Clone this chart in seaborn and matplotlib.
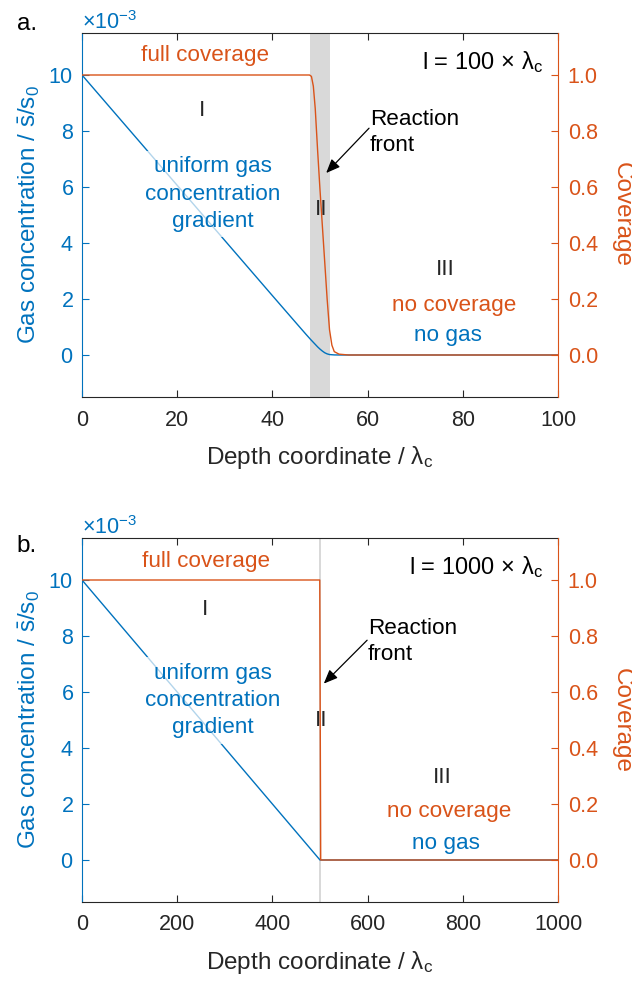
import matplotlib
matplotlib.use("Agg")
import numpy as np
import pandas as pd
import matplotlib.pyplot as plt
import seaborn as sns
from matplotlib.ticker import ScalarFormatter, FormatStrFormatter

# --- data -----------------------------------------------------------------
# Panel a: l = 100 x lambda_c (gas concentration in units of 1e-3)
depth_a_gas = [0, 10, 20, 30, 40, 45, 47, 48, 49, 49.5, 50, 50.5, 51, 51.5, 52, 53, 54, 100]
gas_a = [10.0, 8.03, 6.06, 4.09, 2.12, 1.14, 0.75, 0.56, 0.38, 0.29, 0.21, 0.14, 0.08, 0.04, 0.016, 0.003, 0.0, 0.0]
depth_a_cov = [0, 47.8, 48.2, 48.6, 49.0, 49.5, 50.0, 50.5, 51.0, 51.5, 52.0, 52.5, 53.0, 54.0, 56.0, 100]
cov_a = [1.0, 1.0, 0.995, 0.96, 0.88, 0.73, 0.59, 0.46, 0.33, 0.2, 0.09, 0.035, 0.012, 0.003, 0.0, 0.0]
front_a = (48, 52)

# Panel b: l = 1000 x lambda_c
depth_b_gas = [0, 500, 1000]
gas_b = [10.0, 0.0, 0.0]
depth_b_cov = [0, 499.5, 501.5, 1000]
cov_b = [1.0, 1.0, 0.0, 0.0]
front_b = (498, 502)

xticks_a = [0, 20, 40, 60, 80, 100]
xticks_b = [0, 200, 400, 600, 800, 1000]
gas_ticks = [0, 2, 4, 6, 8, 10]
cov_ticks = [0.0, 0.2, 0.4, 0.6, 0.8, 1.0]

BLUE = "#0072BD"
ORANGE = "#D95319"
DARK = "#262626"
BAND = "#D9D9D9"

sns.set_theme(style="white")
plt.rcParams["font.family"] = ["Liberation Sans", "DejaVu Sans"]
plt.rcParams["mathtext.fontset"] = "custom"
plt.rcParams["mathtext.rm"] = "Liberation Sans"
plt.rcParams["mathtext.it"] = "Liberation Sans"
plt.rcParams["mathtext.bf"] = "Liberation Sans:bold"

TICK_FS = 15.5
LABEL_FS = 17.5
NOTE_FS = 16.2

fig = plt.figure(figsize=(6.32, 9.83), dpi=100)
W, H = 632, 983


def make_axes(top_px, bottom_px):
    left, right = 82, 558
    return fig.add_axes([left / W, 1 - bottom_px / H, (right - left) / W, (bottom_px - top_px) / H])


def draw_panel(ax, depth_gas, gas, depth_cov, cov, band, xmax, xticks, notes, length_label):
    axr = ax.twinx()

    ax.axvspan(band[0], band[1], color=BAND, lw=0, zorder=0)
    gas_df = pd.DataFrame({"depth": depth_gas, "gas": np.array(gas) * 1e-3})
    cov_df = pd.DataFrame({"depth": depth_cov, "coverage": cov})
    sns.lineplot(data=gas_df, x="depth", y="gas", ax=ax, color=BLUE, lw=1.0, sort=False)
    sns.lineplot(data=cov_df, x="depth", y="coverage", ax=axr, color=ORANGE, lw=1.0, sort=False)

    ax.set_xlim(0, xmax)
    ax.set_ylim(-1.5e-3, 11.5e-3)
    axr.set_ylim(-0.15, 1.15)
    ax.set_xticks(xticks)
    ax.set_yticks(np.array(gas_ticks) * 1e-3)
    axr.set_yticks(cov_ticks)
    fmt = ScalarFormatter(useMathText=True)
    fmt.set_powerlimits((-3, -3))
    ax.yaxis.set_major_formatter(fmt)
    axr.yaxis.set_major_formatter(FormatStrFormatter("%.1f"))

    ax.tick_params(axis="x", direction="in", top=True, bottom=True, length=5, width=0.8,
                   colors=DARK, labelsize=TICK_FS, pad=9)
    ax.tick_params(axis="y", direction="in", left=True, right=False, length=5, width=0.8,
                   colors=BLUE, labelsize=TICK_FS, pad=6)
    axr.tick_params(axis="y", direction="in", right=True, left=False, length=5, width=0.8,
                    colors=ORANGE, labelsize=TICK_FS, pad=7)
    ax.yaxis.get_offset_text().set_color(BLUE)
    ax.yaxis.get_offset_text().set_fontsize(TICK_FS)

    for side in ("top", "bottom"):
        ax.spines[side].set_color(DARK)
        ax.spines[side].set_linewidth(0.8)
    ax.spines["left"].set_color(BLUE)
    ax.spines["left"].set_linewidth(0.8)
    ax.spines["right"].set_visible(False)
    axr.spines["left"].set_visible(False)
    axr.spines["top"].set_visible(False)
    axr.spines["bottom"].set_visible(False)
    axr.spines["right"].set_color(ORANGE)
    axr.spines["right"].set_linewidth(0.8)

    ax.set_xlabel(r"Depth coordinate / $\lambda_{\mathrm{c}}$", fontsize=LABEL_FS, color=DARK, labelpad=10)
    ax.set_ylabel(r"Gas concentration / $\bar{\mathrm{s}}/\mathrm{s}_{0}$", fontsize=LABEL_FS,
                  color=BLUE, labelpad=5)
    axr.set_ylabel("Coverage", fontsize=LABEL_FS, color=ORANGE, rotation=270, va="bottom", labelpad=9)

    k = 1e-3
    ax.text(notes["full"][0], notes["full"][1] * k, "full coverage", color=ORANGE,
            fontsize=NOTE_FS, ha="center", va="center")
    ax.text(notes["I"][0], notes["I"][1] * k, "I", color=DARK, fontsize=NOTE_FS,
            ha="center", va="center")
    ax.text(notes["grad"][0], notes["grad"][1] * k, "uniform gas\nconcentration\ngradient",
            color=BLUE, fontsize=NOTE_FS, ha="center", va="center", linespacing=1.38, zorder=5,
            bbox=dict(boxstyle="square,pad=0.25", facecolor="white", edgecolor="none", alpha=0.7))
    ax.text(notes["front"][0], notes["front"][1] * k, "Reaction\nfront", color="black",
            fontsize=NOTE_FS, ha="left", va="center", linespacing=1.35)
    ax.annotate("", xy=(notes["head"][0], notes["head"][1] * k),
                xytext=(notes["tail"][0], notes["tail"][1] * k),
                arrowprops=dict(arrowstyle="-|>,head_length=0.6,head_width=0.25", color="black",
                                lw=0.9, mutation_scale=14, shrinkA=0, shrinkB=0))
    ax.text(notes["II"][0], notes["II"][1] * k, "II", color=DARK, fontsize=NOTE_FS,
            ha="center", va="center")
    ax.text(notes["III"][0], notes["III"][1] * k, "III", color=DARK, fontsize=NOTE_FS,
            ha="center", va="center")
    ax.text(notes["nocov"][0], notes["nocov"][1] * k, "no coverage", color=ORANGE,
            fontsize=NOTE_FS, ha="center", va="center")
    ax.text(notes["nogas"][0], notes["nogas"][1] * k, "no gas", color=BLUE,
            fontsize=NOTE_FS, ha="center", va="center")
    ax.text(notes["len"][0], notes["len"][1] * k, length_label, color="black",
            fontsize=17, ha="right", va="center")
    return axr


notes_a = {
    "full": (25.8, 10.7), "I": (25.2, 8.75), "grad": (27.5, 5.75),
    "front": (60.5, 7.95), "tail": (60.3, 8.1), "head": (51.3, 6.5),
    "II": (50.2, 5.2), "III": (76.3, 3.05), "nocov": (78.2, 1.78), "nogas": (76.9, 0.68),
    "len": (97.0, 10.45),
}
notes_b = {
    "full": (260, 10.65), "I": (258, 8.95), "grad": (275, 5.7),
    "front": (601, 7.8), "tail": (599, 7.85), "head": (508, 6.3),
    "II": (502, 5.0), "III": (756, 2.95), "nocov": (771, 1.72), "nogas": (764, 0.6),
    "len": (970, 10.45),
}

ax_a = make_axes(33, 397)
draw_panel(ax_a, depth_a_gas, gas_a, depth_a_cov, cov_a, front_a, 100, xticks_a, notes_a,
           r"l = 100$\,\times\,\lambda_{\mathrm{c}}$")
ax_b = make_axes(538, 902)
draw_panel(ax_b, depth_b_gas, gas_b, depth_b_cov, cov_b, front_b, 1000, xticks_b, notes_b,
           r"l = 1000$\,\times\,\lambda_{\mathrm{c}}$")

fig.text(27 / W, 1 - 24 / H, "a.", fontsize=17.5, color="black", ha="center", va="center")
fig.text(27 / W, 1 - 546 / H, "b.", fontsize=17.5, color="black", ha="center", va="center")

fig.savefig("out.png", dpi=100)
